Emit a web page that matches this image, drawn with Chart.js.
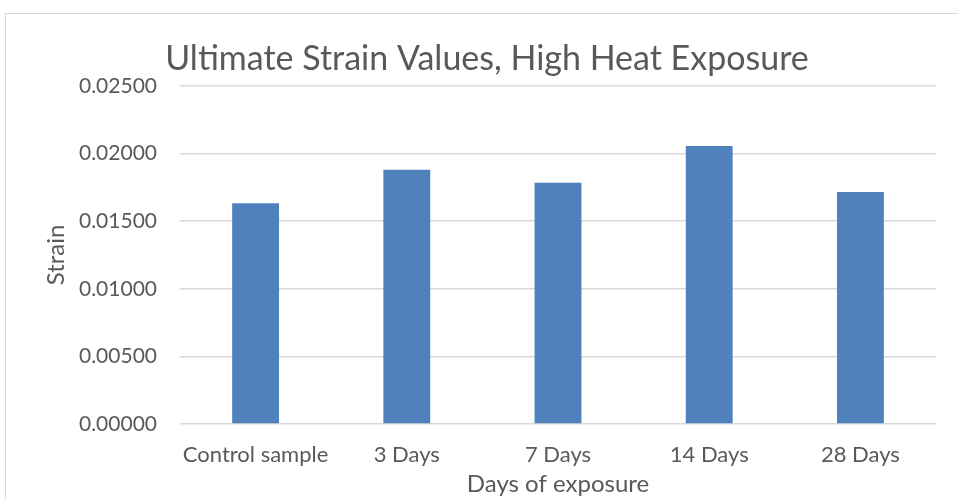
<!DOCTYPE html>
<html>
<head>
<meta charset="utf-8">
<script src="https://cdn.jsdelivr.net/npm/chart.js@4"></script>
<style>
  html, body { margin: 0; padding: 0; background: #fff; overflow: hidden; }
  #wrap { position: relative; width: 958px; height: 499px; }
  #frame { position: absolute; left: 5px; top: 13px; width: 1200px; height: 700px; border: 1.5px solid #D9D9D9; box-sizing: border-box; }
  canvas { position: absolute; left: 0; top: 0; }
</style>
</head>
<body>
<div id="wrap">
  <div id="frame"></div>
  <canvas id="c" width="958" height="499"></canvas>
</div>
<script>
const chartTitle = "Ultimate Strain Values, High Heat Exposure";
const categories = ["Control sample", "3 Days", "7 Days", "14 Days", "28 Days"];
const strainValues = [0.01632, 0.01880, 0.01784, 0.02056, 0.01716];
const yTickMin = 0;
const yTickMax = 0.025;
const yTickStep = 0.005;
const xAxisTitle = "Days of exposure";
const yAxisTitle = "Strain";

const FONT = "Lato, 'Open Sans', sans-serif";
const TEXT = "#595959";

const titlePlugin = {
  id: 'customTitle',
  afterDraw(chart) {
    const ctx = chart.ctx;
    ctx.save();
    ctx.font = "34px " + FONT;
    ctx.fillStyle = TEXT;
    ctx.textAlign = "center";
    ctx.textBaseline = "alphabetic";
    ctx.fillText(chartTitle, 487, 70);
    ctx.restore();
  }
};

new Chart(document.getElementById('c'), {
  type: 'bar',
  data: {
    labels: categories,
    datasets: [{
      data: strainValues,
      backgroundColor: '#4F81BD',
      borderWidth: 0,
      categoryPercentage: 1.0,
      barPercentage: 0.31
    }]
  },
  plugins: [titlePlugin],
  options: {
    responsive: false,
    animation: false,
    devicePixelRatio: 1,
    layout: { padding: { left: 42, right: 22, top: 86, bottom: 0 } },
    plugins: { legend: { display: false }, tooltip: { enabled: false }, title: { display: false } },
    scales: {
      x: {
        grid: { display: false, drawTicks: false },
        border: { display: false },
        ticks: { color: TEXT, font: { family: FONT, size: 22 }, padding: 18, maxRotation: 0 },
        title: { display: true, text: xAxisTitle, color: TEXT, font: { family: FONT, size: 24 }, padding: { top: 4, bottom: 0 } },
        afterFit(scale) { scale.height = 75; }
      },
      y: {
        min: yTickMin,
        max: yTickMax,
        grid: { color: '#D9D9D9', lineWidth: 1.5, drawTicks: false },
        border: { display: false },
        ticks: {
          stepSize: yTickStep,
          color: TEXT,
          font: { family: FONT, size: 21 },
          padding: 23,
          callback: v => Number(v).toFixed(5)
        },
        title: { display: true, text: yAxisTitle, color: TEXT, font: { family: FONT, size: 24 }, padding: { top: 0, bottom: 0 } },
        afterFit(scale) { scale.width = 138; }
      }
    }
  }
});
</script>
</body>
</html>
